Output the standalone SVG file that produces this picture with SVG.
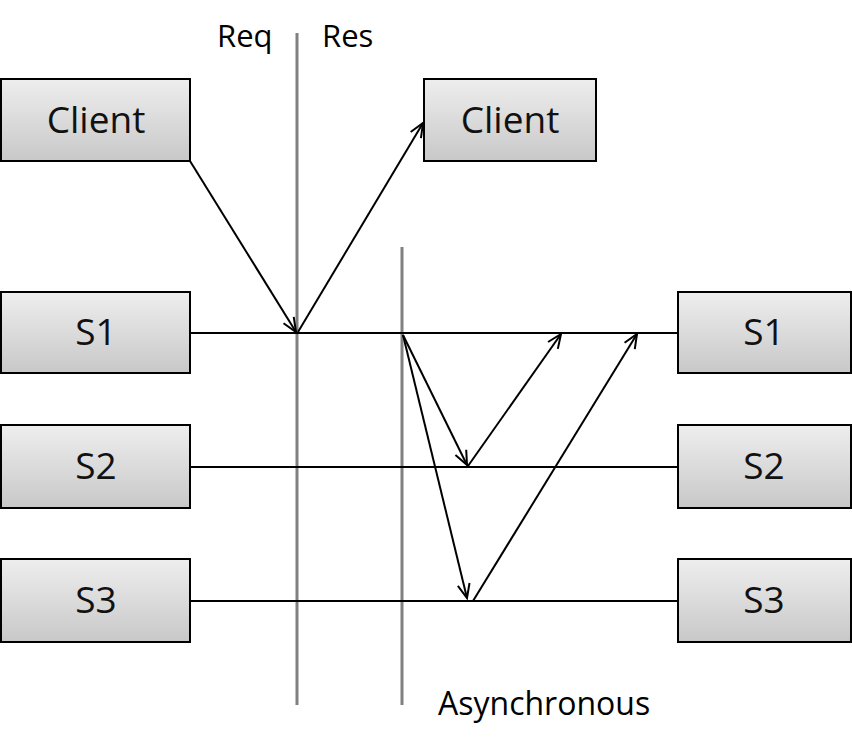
<svg xmlns="http://www.w3.org/2000/svg" width="852" height="749" viewBox="0 0 852 749">
<defs>
<linearGradient id="g" x1="0" y1="0" x2="0" y2="1">
<stop offset="0" stop-color="#eeeeee"/>
<stop offset="1" stop-color="#c8c8c8"/>
</linearGradient>
<marker id="arr" markerUnits="userSpaceOnUse" markerWidth="20" markerHeight="20" refX="15" refY="7" orient="auto" viewBox="0 0 20 14">
<path d="M1,1 L15,7 L1,13" fill="none" stroke="#000" stroke-width="2"/>
</marker>
<style>
.box{fill:url(#g);stroke:#000;stroke-width:2}
.lbl{font-family:"Open Sans","Noto Sans","DejaVu Sans",sans-serif;font-size:37px;fill:#111;text-anchor:middle}
.t{font-family:"Open Sans","Noto Sans","DejaVu Sans",sans-serif;font-size:31px;fill:#000}
.c{stroke:#000;stroke-width:2;fill:none}
.a{marker-end:url(#arr)}
.v{stroke:#808080;stroke-width:3}
</style>
</defs>
<rect width="852" height="749" fill="#fff"/>
<g id="dividers">
<line class="v" x1="297" y1="33" x2="297" y2="705"/>
<line class="v" x1="402" y1="247" x2="402" y2="705"/>
</g>
<g id="connectors">
<line class="c" x1="190" y1="333" x2="678" y2="333"/>
<line class="c" x1="190" y1="467" x2="678" y2="467"/>
<line class="c" x1="190" y1="601" x2="678" y2="601"/>
<line class="c a" x1="190" y1="161" x2="296" y2="332"/>
<line class="c a" x1="298" y1="332" x2="423" y2="123"/>
<line class="c a" x1="403" y1="335" x2="467" y2="465"/>
<line class="c a" x1="403" y1="335" x2="467" y2="598"/>
<line class="c a" x1="468" y1="466" x2="561" y2="334"/>
<line class="c a" x1="473" y1="601" x2="637" y2="334"/>
</g>
<g id="client-left"><rect class="box" x="1" y="79" width="189" height="82"/><text class="lbl" x="96" y="133">Client</text></g>
<g id="client-right"><rect class="box" x="424" y="79" width="172" height="82"/><text class="lbl" x="510" y="133">Client</text></g>
<g id="s1-left"><rect class="box" x="1" y="292" width="189" height="81"/><text class="lbl" x="96" y="345">S1</text></g>
<g id="s2-left"><rect class="box" x="1" y="425" width="189" height="83"/><text class="lbl" x="96" y="479">S2</text></g>
<g id="s3-left"><rect class="box" x="1" y="559" width="189" height="83"/><text class="lbl" x="96" y="613">S3</text></g>
<g id="s1-right"><rect class="box" x="678" y="292" width="173" height="81"/><text class="lbl" x="764" y="345">S1</text></g>
<g id="s2-right"><rect class="box" x="678" y="425" width="173" height="83"/><text class="lbl" x="764" y="479">S2</text></g>
<g id="s3-right"><rect class="box" x="678" y="559" width="173" height="83"/><text class="lbl" x="764" y="613">S3</text></g>
<g id="labels">
<text class="t" x="217" y="47">Req</text>
<text class="t" x="322" y="47">Res</text>
<text class="t" x="438" y="715" style="font-size:32px">Asynchronous</text>
</g>
</svg>
